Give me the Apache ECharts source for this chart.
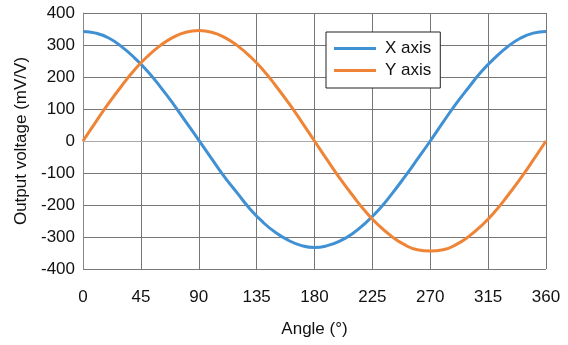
<!DOCTYPE html>
<html>
<head>
<meta charset="utf-8">
<script src="https://cdn.jsdelivr.net/npm/echarts@6/dist/echarts.min.js"></script>
<style>
  html, body { margin: 0; padding: 0; background: #fff; }
  #chart { width: 568px; height: 345px; }
</style>
</head>
<body>
<div id="chart"></div>
<script>
// angle in degrees, read every 10 degrees off the reference
var angles = [0, 10, 20, 30, 40, 50, 60, 70, 80, 90, 100, 110, 120, 130, 140, 150, 160, 170, 180,
  190, 200, 210, 220, 230, 240, 250, 260, 270, 280, 290, 300, 310, 320, 330, 340, 350, 360];
var xAxisOut = [342, 337, 322, 295, 260, 219, 170, 117, 60, 3, -55, -112, -163, -213, -254, -287, -311, -327, -333,
  -327, -312, -288, -255, -215, -166, -113, -57, 0, 59, 116, 168, 218, 259, 294, 321, 337, 342];
var yAxisOut = [0, 60, 118, 172, 222, 264, 298, 324, 340, 345, 340, 324, 298, 264, 222, 172, 118, 60, 0,
  -60, -118, -172, -222, -264, -298, -324, -340, -344, -340, -324, -298, -264, -222, -172, -118, -60, 0];

function pairs(vals) {
  var out = [];
  for (var i = 0; i < angles.length; i++) out.push([angles[i], vals[i]]);
  return out;
}

var chart = echarts.init(document.getElementById('chart'));
var font = 'Liberation Sans, Arial, sans-serif';

chart.setOption({
  animation: false,
  textStyle: { fontFamily: font },
  grid: { left: 83, right: 22, top: 13, bottom: 76 },
  legend: {
    orient: 'vertical',
    left: 326, top: 32,
    padding: [8, 9, 9, 8],
    itemGap: 5,
    itemWidth: 42, itemHeight: 3,
    backgroundColor: '#fff',
    borderColor: '#222', borderWidth: 1,
    textStyle: { fontSize: 17, color: '#111', padding: [0, 0, 0, 4] },
    icon: 'rect',
    data: ['X axis', 'Y axis']
  },
  xAxis: {
    type: 'value', min: 0, max: 360, interval: 45,
    name: 'Angle (°)', nameLocation: 'middle', nameGap: 52,
    nameTextStyle: { fontSize: 17, color: '#111' },
    axisLine: { lineStyle: { color: '#aaa', width: 1 } },
    axisTick: { show: false },
    axisLabel: { fontSize: 17, color: '#111', margin: 20 },
    splitLine: { show: true, lineStyle: { color: '#777', width: 1 } }
  },
  yAxis: {
    type: 'value', min: -400, max: 400, interval: 100,
    name: 'Output voltage (mV/V)', nameLocation: 'middle', nameGap: 53,
    nameTextStyle: { fontSize: 17, color: '#111' },
    axisLine: { show: true, lineStyle: { color: '#888', width: 1 } },
    axisTick: { show: false },
    axisLabel: { fontSize: 17, color: '#111', margin: 8 },
    splitLine: { show: true, lineStyle: { color: '#777', width: 1 } }
  },
  series: [
    {
      name: 'X axis', type: 'line', smooth: true, symbol: 'none',
      data: pairs(xAxisOut),
      lineStyle: { color: '#4090d4', width: 3 },
      itemStyle: { color: '#4090d4' }
    },
    {
      name: 'Y axis', type: 'line', smooth: true, symbol: 'none',
      data: pairs(yAxisOut),
      lineStyle: { color: '#f08436', width: 3 },
      itemStyle: { color: '#f08436' }
    }
  ]
});
</script>
</body>
</html>
